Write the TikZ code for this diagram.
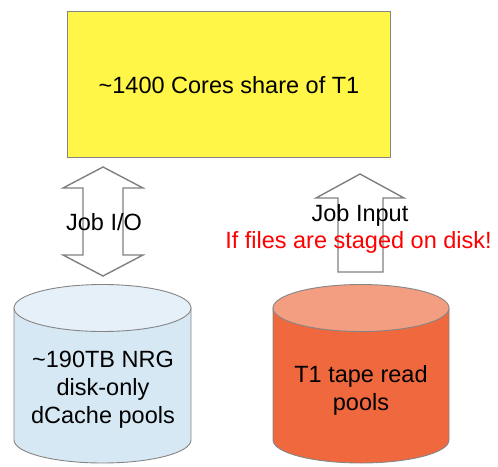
\documentclass[tikz,border=0pt]{standalone}
\usepackage{fontspec}
\setmainfont{Liberation Sans}
\begin{document}
\begin{tikzpicture}[x=1pt,y=-1pt,
  every node/.style={font=\fontsize{23.5}{28}\selectfont, align=center, inner sep=0pt},
  edgegray/.style={draw=black!48, line width=0.9pt},
  blockarrow/.style={draw=black!50, line width=1.4pt, fill=white, line join=miter},
  coresbox/.style={edgegray, fill=yellow!72!white},
]
\useasboundingbox (0,0) rectangle (498,466);

% compute share box
\node[coresbox, minimum width=323pt, minimum height=146pt] (cores) at (228.5,84) {};
\node (corestext) at (229,85) {\textasciitilde1400 Cores share of T1};

% cylinders: body with bottom arc, then the lighter top ellipse
\definecolor{diskbody}{RGB}{214,232,243}
\definecolor{disktop}{RGB}{229,240,248}
\definecolor{tapebody}{RGB}{240,104,62}
\definecolor{tapetop}{RGB}{243,158,128}

\coordinate (diskc) at (102.5,308);
\coordinate (tapec) at (361,308);

\draw[edgegray, fill=diskbody] (14,308) -- (14,440)
  arc[start angle=180, end angle=360, x radius=88.5pt, y radius=23pt]
  -- (191,308) -- cycle;
\draw[edgegray, fill=disktop] (diskc) ellipse [x radius=88.5pt, y radius=23.5pt];

\draw[edgegray, fill=tapebody] (273,308) -- (273,440)
  arc[start angle=180, end angle=360, x radius=88pt, y radius=23pt]
  -- (449,308) -- cycle;
\draw[edgegray, fill=tapetop] (tapec) ellipse [x radius=88pt, y radius=23.5pt];

\node (disk) at (103,390) {\textasciitilde190TB NRG\\disk-only\\dCache pools};
\node (tape) at (361,390) {T1 tape read\\pools};

% block arrows between storage and compute
\draw[blockarrow] (103,167) -- (143,188) -- (123,188) -- (123,255) -- (143,255)
  -- (103,276) -- (63,255) -- (83,255) -- (83,188) -- (63,188) -- cycle;
\draw[blockarrow] (360,174) -- (404,198) -- (383,198) -- (383,272)
  -- (338,272) -- (338,198) -- (316,198) -- cycle;

\node (jobio) at (104,222) {Job I/O};
\node (jobin) at (360,215) {Job Input};
\node[text=red] (staged) at (358.5,242) {If files are staged on disk!};
\end{tikzpicture}
\end{document}
